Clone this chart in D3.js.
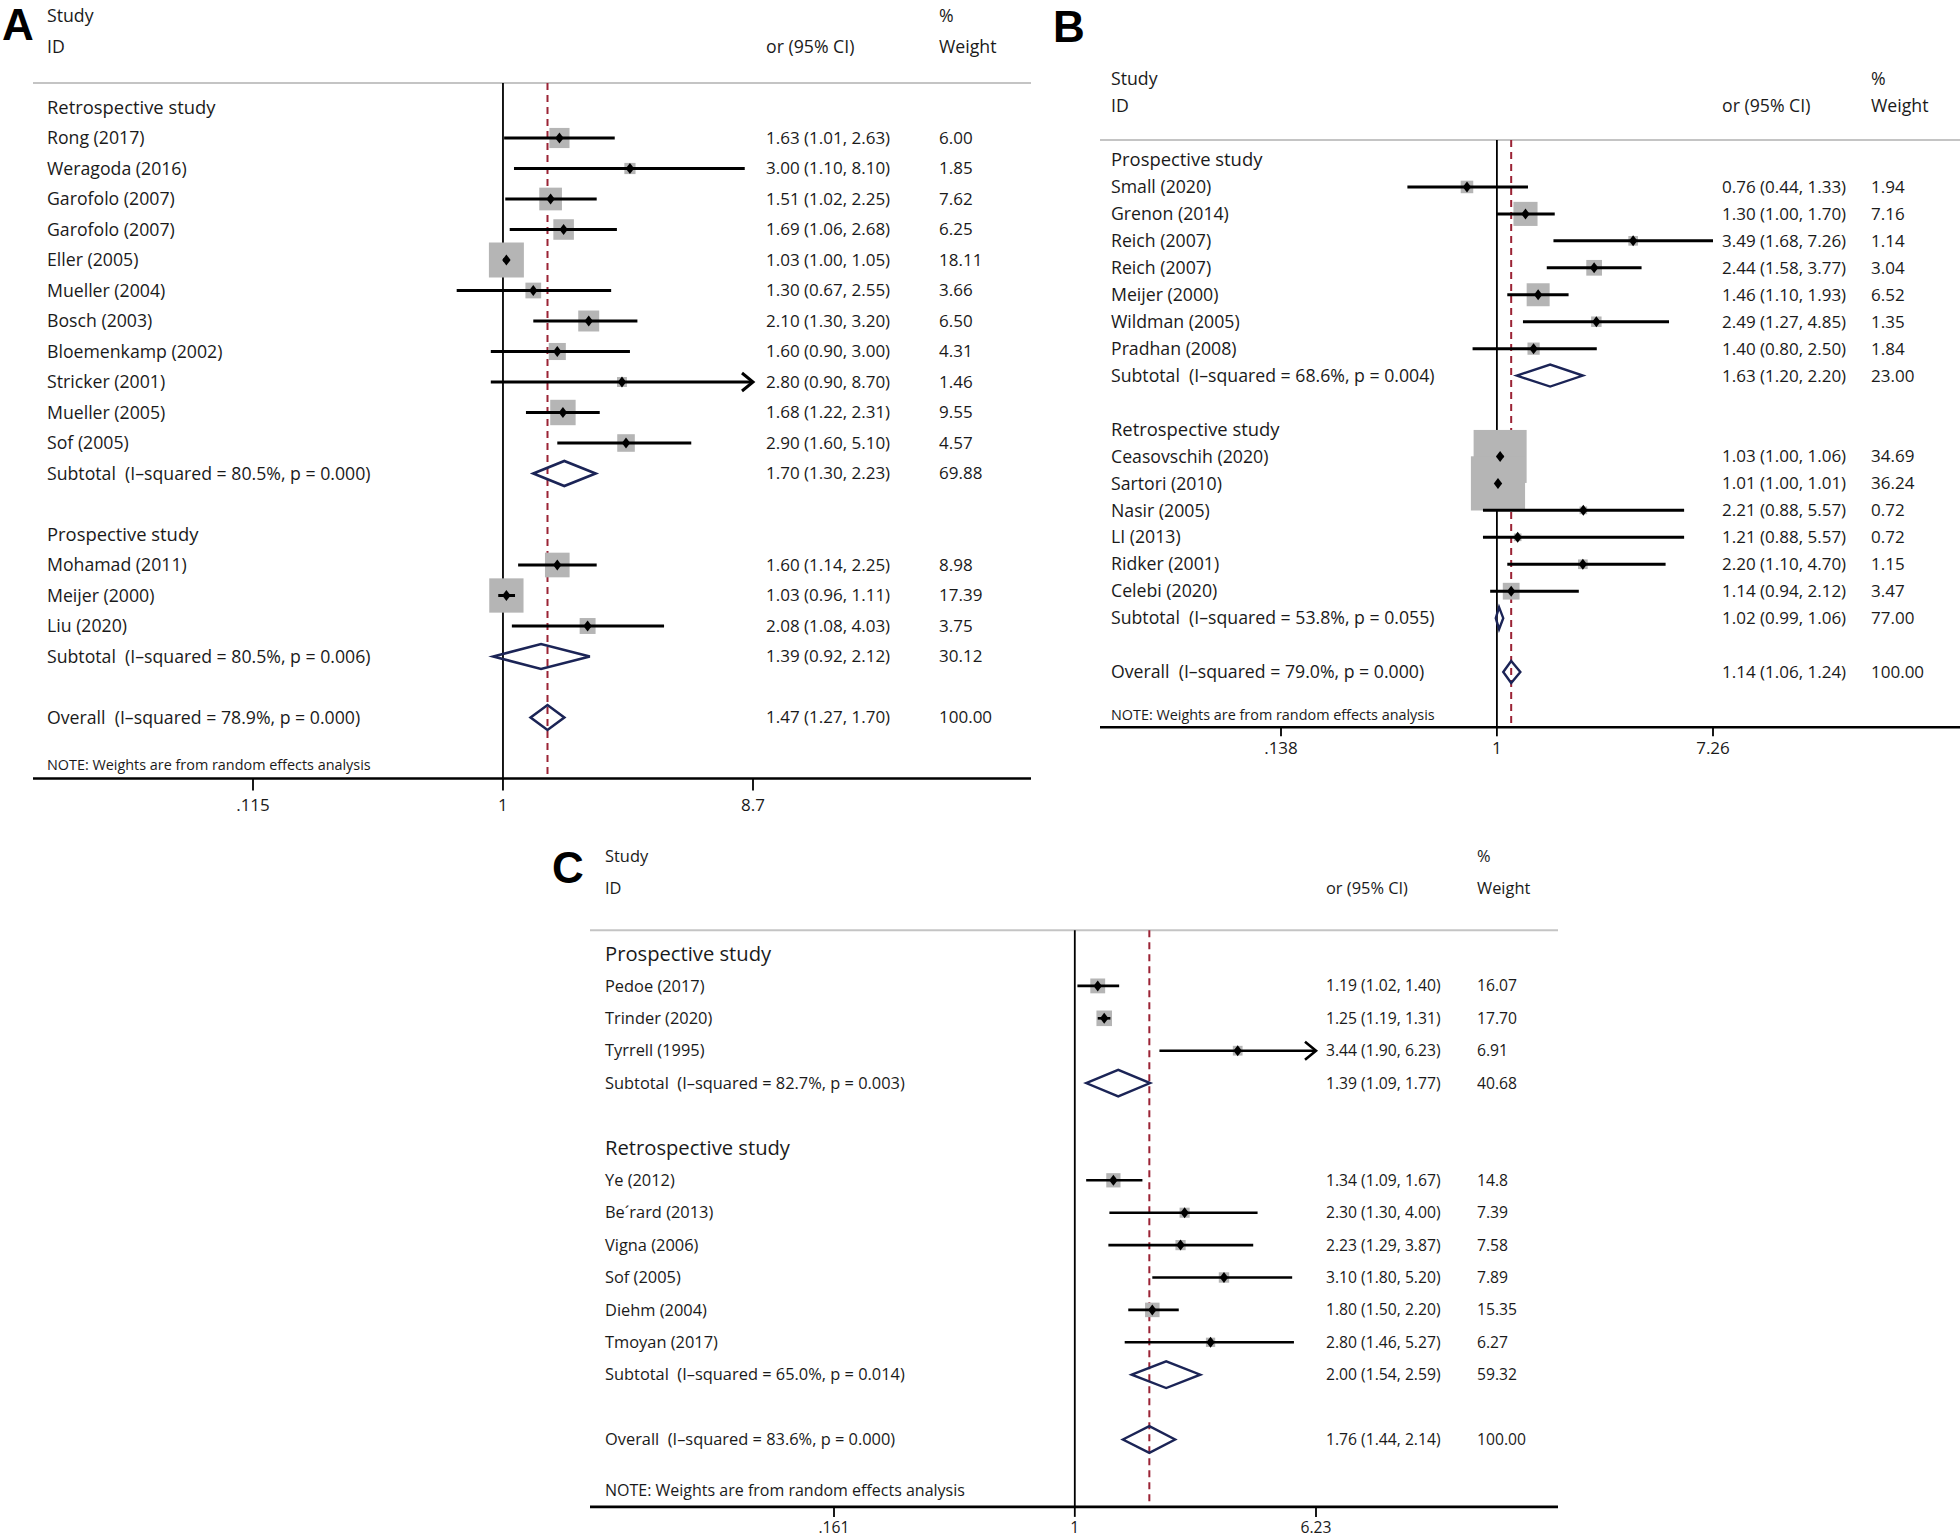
<!DOCTYPE html>
<html><head><meta charset="utf-8">
<script src="https://cdn.jsdelivr.net/npm/d3@7"></script>
<style>
body{margin:0;background:#fff}
svg text{font-family:"Open Sans",Lato,sans-serif;fill:#1a1a1a;white-space:pre}
</style>
</head><body>
<svg id="chart" width="1960" height="1540"></svg>
<script>
// ---------------- Panel A ----------------
const groupsA = ["Retrospective study", "Prospective study"];
const studiesA = ["Rong (2017)", "Weragoda (2016)", "Garofolo (2007)", "Garofolo (2007)", "Eller (2005)", "Mueller (2004)", "Bosch (2003)", "Bloemenkamp (2002)", "Stricker (2001)", "Mueller (2005)", "Sof (2005)", "Mohamad (2011)", "Meijer (2000)", "Liu (2020)"];
const studyGroupA = [0,0,0,0,0,0,0,0,0,0,0,1,1,1];
const orA = [1.63, 3.00, 1.51, 1.69, 1.03, 1.30, 2.10, 1.60, 2.80, 1.68, 2.90, 1.60, 1.03, 2.08];
const loA = [1.01, 1.10, 1.02, 1.06, 1.00, 0.67, 1.30, 0.90, 0.90, 1.22, 1.60, 1.14, 0.96, 1.08];
const hiA = [2.63, 8.10, 2.25, 2.68, 1.05, 2.55, 3.20, 3.00, 8.70, 2.31, 5.10, 2.25, 1.11, 4.03];
const weightA = [6.00, 1.85, 7.62, 6.25, 18.11, 3.66, 6.50, 4.31, 1.46, 9.55, 4.57, 8.98, 17.39, 3.75];
const weightLabelsA = ["6.00","1.85","7.62","6.25","18.11","3.66","6.50","4.31","1.46","9.55","4.57","8.98","17.39","3.75"];
const truncatedA = [false,false,false,false,false,false,false,false,true,false,false,false,false,false];
const subHetA = ["I\u2013squared = 80.5%, p = 0.000", "I\u2013squared = 80.5%, p = 0.006"];
const subOrA = [1.70, 1.39];
const subLoA = [1.30, 0.92];
const subHiA = [2.23, 2.12];
const subWeightLabelsA = ["69.88", "30.12"];
const overallHetA = "I\u2013squared = 78.9%, p = 0.000";
const overallA = [1.47, 1.27, 1.70];
const ticksA = [0.115, 1, 8.7];
const tickLabelsA = [".115", "1", "8.7"];

// ---------------- Panel B ----------------
const groupsB = ["Prospective study", "Retrospective study"];
const studiesB = ["Small (2020)", "Grenon (2014)", "Reich (2007)", "Reich (2007)", "Meijer (2000)", "Wildman (2005)", "Pradhan (2008)", "Ceasovschih (2020)", "Sartori (2010)", "Nasir (2005)", "LI (2013)", "Ridker (2001)", "Celebi (2020)"];
const studyGroupB = [0,0,0,0,0,0,0,1,1,1,1,1,1];
const orB = [0.76, 1.30, 3.49, 2.44, 1.46, 2.49, 1.40, 1.03, 1.01, 2.21, 1.21, 2.20, 1.14];
const loB = [0.44, 1.00, 1.68, 1.58, 1.10, 1.27, 0.80, 1.00, 1.00, 0.88, 0.88, 1.10, 0.94];
const hiB = [1.33, 1.70, 7.26, 3.77, 1.93, 4.85, 2.50, 1.06, 1.01, 5.57, 5.57, 4.70, 2.12];
const weightB = [1.94, 7.16, 1.14, 3.04, 6.52, 1.35, 1.84, 34.69, 36.24, 0.72, 0.72, 1.15, 3.47];
const weightLabelsB = ["1.94","7.16","1.14","3.04","6.52","1.35","1.84","34.69","36.24","0.72","0.72","1.15","3.47"];
const truncatedB = [false,false,false,false,false,false,false,false,false,false,false,false,false];
const subHetB = ["I\u2013squared = 68.6%, p = 0.004", "I\u2013squared = 53.8%, p = 0.055"];
const subOrB = [1.63, 1.02];
const subLoB = [1.20, 0.99];
const subHiB = [2.20, 1.06];
const subWeightLabelsB = ["23.00", "77.00"];
const overallHetB = "I\u2013squared = 79.0%, p = 0.000";
const overallB = [1.14, 1.06, 1.24];
const ticksB = [0.138, 1, 7.26];
const tickLabelsB = [".138", "1", "7.26"];

// ---------------- Panel C ----------------
const groupsC = ["Prospective study", "Retrospective study"];
const studiesC = ["Pedoe (2017)", "Trinder (2020)", "Tyrrell (1995)", "Ye (2012)", "Be\u00b4rard (2013)", "Vigna (2006)", "Sof (2005)", "Diehm (2004)", "Tmoyan (2017)"];
const studyGroupC = [0,0,0,1,1,1,1,1,1];
const orC = [1.19, 1.25, 3.44, 1.34, 2.30, 2.23, 3.10, 1.80, 2.80];
const loC = [1.02, 1.19, 1.90, 1.09, 1.30, 1.29, 1.80, 1.50, 1.46];
const hiC = [1.40, 1.31, 6.23, 1.67, 4.00, 3.87, 5.20, 2.20, 5.27];
const weightC = [16.07, 17.70, 6.91, 14.84, 7.39, 7.58, 7.89, 15.35, 6.27];
const weightLabelsC = ["16.07","17.70","6.91","14.8","7.39","7.58","7.89","15.35","6.27"];
const truncatedC = [false,false,true,false,false,false,false,false,false];
const subHetC = ["I\u2013squared = 82.7%, p = 0.003", "I\u2013squared = 65.0%, p = 0.014"];
const subOrC = [1.39, 2.00];
const subLoC = [1.09, 1.54];
const subHiC = [1.77, 2.59];
const subWeightLabelsC = ["40.68", "59.32"];
const overallHetC = "I\u2013squared = 83.6%, p = 0.000";
const overallC = [1.76, 1.44, 2.14];
const ticksC = [0.161, 1, 6.23];
const tickLabelsC = [".161", "1", "6.23"];

const noteText = "NOTE: Weights are from random effects analysis";

// ---------------- drawing ----------------
const svg = d3.select("#chart");
const f2 = d3.format(".2f");
const RED = "#9b2335", NAVY = "#1b2456", BOX = "#b5b5b5";

function drawPanel(d, L) {
  const g = svg.append("g");
  const x = d3.scaleLog().domain([d.ticks[0], d.ticks[2]]).range([L.xLo, L.xHi]);
  const rows = [];
  let idx = 0;
  d.groups.forEach((gname, gi) => {
    rows.push({type: "group", idx: idx++, label: gname});
    d.studies.forEach((s, si) => {
      if (d.studyGroup[si] === gi) rows.push({type: "study", idx: idx++, si});
    });
    rows.push({type: "sub", idx: idx++, gi});
    idx++; // blank
  });
  const overallIdx = idx;
  rows.push({type: "overall", idx: overallIdx});
  const y = d3.scaleLinear().domain([0, 1]).range([L.y0, L.y0 + L.step]);
  const lf = L.labelFs, nf = L.numFs;
  const lab = (yc, txt, xx) => g.append("text").attr("x", xx).attr("y", yc + 0.35 * lf).style("font-size", lf + "px").text(txt);
  const num = (yc, txt, xx) => g.append("text").attr("x", xx).attr("y", yc + 0.35 * nf).style("font-size", nf + "px").text(txt);

  g.append("text").attr("x", L.letterX).attr("y", L.letterY)
    .style("font-family", "'Liberation Sans',Arial,sans-serif").style("font-weight", "bold")
    .style("font-size", "44px").style("fill", "#000").text(L.letter);

  lab(y(-3), "Study", L.textX);
  lab(y(-2), "ID", L.textX);
  lab(y(-2), "or (95% CI)", L.ciX);
  lab(y(-3), "%", L.wX);
  lab(y(-2), "Weight", L.wX);

  const topY = y(L.headIdx), axisY = y(overallIdx + L.axisOff);
  g.append("line").attr("x1", L.lineX0).attr("x2", L.lineX1).attr("y1", topY).attr("y2", topY)
    .attr("stroke", "#c4c4c4").attr("stroke-width", 2);
  g.append("line").attr("x1", x(1)).attr("x2", x(1)).attr("y1", topY).attr("y2", axisY)
    .attr("stroke", "#000").attr("stroke-width", 1.8);
  g.append("line").attr("x1", x(d.overall[0])).attr("x2", x(d.overall[0])).attr("y1", topY).attr("y2", axisY)
    .attr("stroke", RED).attr("stroke-width", 2).attr("stroke-dasharray", "7,5");
  g.append("line").attr("x1", L.lineX0).attr("x2", L.lineX1).attr("y1", axisY).attr("y2", axisY)
    .attr("stroke", "#000").attr("stroke-width", 2.6);
  d.ticks.forEach((t, i) => {
    g.append("line").attr("x1", x(t)).attr("x2", x(t)).attr("y1", axisY).attr("y2", axisY + L.tickLen)
      .attr("stroke", "#000").attr("stroke-width", 1.8);
    g.append("text").attr("x", x(t)).attr("y", axisY + L.tickLabOff + 0.35 * nf)
      .attr("text-anchor", "middle").style("font-size", nf + "px").text(d.tickLabels[i]);
  });
  g.append("text").attr("x", L.textX).attr("y", y(overallIdx + L.noteOff) + 0.35 * L.noteFs)
    .style("font-size", L.noteFs + "px").text(noteText);

  rows.forEach(r => {
    const yc = y(r.idx);
    if (r.type === "group") {
      g.append("text").attr("x", L.textX).attr("y", yc + 0.35 * L.groupFs)
        .style("font-size", L.groupFs + "px").text(r.label);
    } else if (r.type === "study") {
      const i = r.si;
      const side = L.boxK * Math.sqrt(d.weight[i]);
      g.append("rect").attr("x", x(d.or[i]) - side / 2).attr("y", yc - side / 2)
        .attr("width", side).attr("height", side).attr("fill", BOX);
    }
  });
  rows.forEach(r => {
    const yc = y(r.idx);
    if (r.type === "study") {
      const i = r.si;
      const x0 = x(Math.max(d.lo[i], d.ticks[0])), x1 = x(Math.min(d.hi[i], d.ticks[2]));
      g.append("line").attr("x1", x0).attr("x2", x1).attr("y1", yc).attr("y2", yc)
        .attr("stroke", "#000").attr("stroke-width", L.ciW);
      if (d.truncated[i]) {
        g.append("path").attr("d", `M${x1 - 11},${yc - 9}L${x1},${yc}L${x1 - 11},${yc + 9}`)
          .attr("fill", "none").attr("stroke", "#000").attr("stroke-width", L.ciW);
      }
      const px = x(d.or[i]);
      g.append("path").attr("d", `M${px},${yc - 5.5}L${px + 4.2},${yc}L${px},${yc + 5.5}L${px - 4.2},${yc}Z`)
        .attr("fill", "#000");
      lab(yc, d.studies[i], L.textX);
      num(yc, `${f2(d.or[i])} (${f2(d.lo[i])}, ${f2(d.hi[i])})`, L.ciX);
      num(yc, d.weightLabels[i], L.wX);
    } else if (r.type === "sub" || r.type === "overall") {
      let est, lo, hi, label, wl;
      if (r.type === "sub") {
        est = d.subOr[r.gi]; lo = d.subLo[r.gi]; hi = d.subHi[r.gi];
        label = `Subtotal  (${d.subHet[r.gi]})`; wl = d.subWeightLabels[r.gi];
      } else {
        [est, lo, hi] = d.overall; label = `Overall  (${d.overallHet})`; wl = "100.00";
      }
      const h = L.diaH;
      g.append("path").attr("d", `M${x(lo)},${yc}L${x(est)},${yc - h}L${x(hi)},${yc}L${x(est)},${yc + h}Z`)
        .attr("fill", "none").attr("stroke", NAVY).attr("stroke-width", L.diaW).attr("stroke-linejoin", "miter");
      lab(yc, label, L.textX);
      num(yc, `${f2(est)} (${f2(lo)}, ${f2(hi)})`, L.ciX);
      num(yc, wl, L.wX);
    }
  });
}

drawPanel(
  {groups: groupsA, studies: studiesA, studyGroup: studyGroupA, or: orA, lo: loA, hi: hiA, weight: weightA,
   weightLabels: weightLabelsA, truncated: truncatedA, subHet: subHetA, subOr: subOrA, subLo: subLoA, subHi: subHiA,
   subWeightLabels: subWeightLabelsA, overallHet: overallHetA, overall: overallA, ticks: ticksA, tickLabels: tickLabelsA},
  {letter: "A", letterX: 2, letterY: 40, textX: 47, ciX: 766, wX: 939, lineX0: 33, lineX1: 1031,
   xLo: 253, xHi: 753, y0: 107.5, step: 30.5, labelFs: 17.7, numFs: 17, groupFs: 18.4, noteFs: 14.4, headIdx: -0.8,
   axisOff: 2.0, noteOff: 1.55, tickLen: 12, tickLabOff: 27, boxK: 8.22, ciW: 3, diaH: 12.5, diaW: 2.6});

drawPanel(
  {groups: groupsB, studies: studiesB, studyGroup: studyGroupB, or: orB, lo: loB, hi: hiB, weight: weightB,
   weightLabels: weightLabelsB, truncated: truncatedB, subHet: subHetB, subOr: subOrB, subLo: subLoB, subHi: subHiB,
   subWeightLabels: subWeightLabelsB, overallHet: overallHetB, overall: overallB, ticks: ticksB, tickLabels: tickLabelsB},
  {letter: "B", letterX: 1053, letterY: 42, textX: 1111, ciX: 1722, wX: 1871, lineX0: 1100, lineX1: 1960,
   xLo: 1281, xHi: 1713, y0: 160, step: 26.95, labelFs: 17.7, numFs: 17, groupFs: 18.4, noteFs: 14.4, headIdx: -0.74,
   axisOff: 2.05, noteOff: 1.6, tickLen: 9, tickLabOff: 21, boxK: 9.0, ciW: 3, diaH: 11, diaW: 2.4});

drawPanel(
  {groups: groupsC, studies: studiesC, studyGroup: studyGroupC, or: orC, lo: loC, hi: hiC, weight: weightC,
   weightLabels: weightLabelsC, truncated: truncatedC, subHet: subHetC, subOr: subOrC, subLo: subLoC, subHi: subHiC,
   subWeightLabels: subWeightLabelsC, overallHet: overallHetC, overall: overallC, ticks: ticksC, tickLabels: tickLabelsC},
  {letter: "C", letterX: 552, letterY: 883, textX: 605, ciX: 1326, wX: 1477, lineX0: 590, lineX1: 1558,
   xLo: 834, xHi: 1316, y0: 953.5, step: 32.4, labelFs: 16.4, numFs: 15.7, groupFs: 20.2, noteFs: 16.0, headIdx: -0.72,
   axisOff: 2.08, noteOff: 1.56, tickLen: 10, tickLabOff: 21, boxK: 3.7, ciW: 2.6, diaH: 13.3, diaW: 2.4});
</script>
</body></html>
